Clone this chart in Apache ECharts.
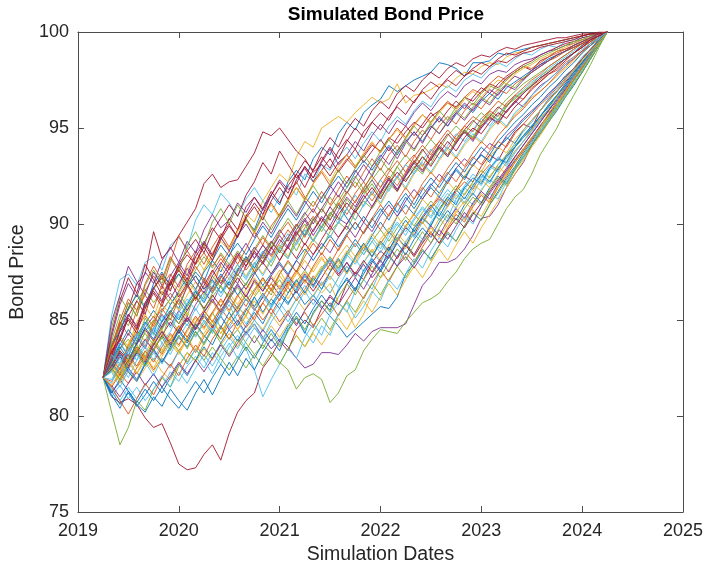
<!DOCTYPE html>
<html><head><meta charset="utf-8">
<script src="https://cdn.jsdelivr.net/npm/echarts@6/dist/echarts.min.js"></script>
<style>html,body{margin:0;padding:0;background:#fff}#c{width:706px;height:570px}</style>
</head><body><div id="c"></div>
<script>
const dates = ['2019-04','2019-05','2019-06','2019-07','2019-08','2019-09','2019-10','2019-11','2019-12',
'2020-01','2020-02','2020-03','2020-04','2020-05','2020-06','2020-07','2020-08','2020-09','2020-10','2020-11','2020-12',
'2021-01','2021-02','2021-03','2021-04','2021-05','2021-06','2021-07','2021-08','2021-09','2021-10','2021-11','2021-12',
'2022-01','2022-02','2022-03','2022-04','2022-05','2022-06','2022-07','2022-08','2022-09','2022-10','2022-11','2022-12',
'2023-01','2023-02','2023-03','2023-04','2023-05','2023-06','2023-07','2023-08','2023-09','2023-10','2023-11','2023-12',
'2024-01','2024-02','2024-03','2024-04'];
const xTickYears = [2019,2020,2021,2022,2023,2024,2025];
const yTickValues = [75,80,85,90,95,100];

const path00 = [82.0,82.9,83.8,83.1,84.2,84.9,84.3,85.5,86.1,85.6, 86.8,87.5,87.0,88.1,88.9,88.3,89.4,90.2,89.7,90.8, 91.5,91.0,92.2,92.8,92.3,93.4,94.0,93.6,94.7,95.3, 94.9,95.8,96.2,96.5,97.2,96.9,97.2,97.5,97.7,97.9, 98.4,98.3,98.1,97.7,98.4,98.4,98.5,98.9,98.8,99.0, 99.1,99.2,99.3,99.4,99.5,99.6,99.7,99.8,99.9,99.9, 100];
const path01 = [82.0,83.1,84.0,83.5,84.6,85.2,84.7,85.9,86.4,85.8, 86.7,87.3,86.6,87.5,88.2,87.6,88.4,87.8,88.6,89.3, 88.7,89.5,90.1,89.4,90.2,90.8,90.1,90.9,91.5,90.8, 91.6,92.2,91.5,92.3,92.9,92.4,93.1,93.6,93.0,93.8, 94.3,93.9,94.6,95.1,94.8,95.5,95.9,95.6,96.3,96.7, 96.5,97.1,97.4,97.8,98.0,98.4,98.7,99.0,99.3,99.6, 100];
const path02 = [82.0,83.0,82.5,83.6,84.4,83.9,85.0,85.8,85.3,86.4, 87.0,86.5,87.6,88.3,89.1,88.6,89.7,90.5,90.1,91.2, 91.9,92.6,92.2,93.5,94.3,94.0,95.0,95.3,95.6,95.3, 95.8,96.2,96.6,96.3,96.5,97.3,96.3,96.7,96.8,97.0, 97.3,97.1,97.6,97.9,97.8,98.2,98.4,98.3,98.7,98.9, 99.0,99.2,99.3,99.4,99.5,99.6,99.7,99.8,99.9,99.9, 100];
const path03 = [82.0,81.2,81.8,82.5,81.9,82.7,83.4,82.8,83.5,84.1, 83.6,84.4,83.8,84.6,85.2,84.5,85.0,84.3,84.8,84.1, 83.5,84.0,83.6,83.0,82.5,82.7,83.3,83.3,83.2,83.7, 84.3,83.9,84.4,84.6,84.6,84.6,84.8,85.8,86.8,87.3, 88.0,88.0,88.2,88.7,89.4,90.3,90.4,91.0,91.9,92.6, 93.2,94.1,94.8,95.4,96.1,96.8,97.5,98.2,98.8,99.4, 100];
const path04 = [82.0,82.6,83.3,82.7,83.8,84.3,83.7,84.6,85.1,84.4, 85.0,84.2,84.8,85.4,84.6,84.0,84.5,83.8,83.2,83.7, 83.3,82.8,82.4,81.4,82.0,82.2,81.9,80.7,81.2,82.1, 82.4,83.4,84.0,84.5,84.4,84.3,84.9,85.4,85.9,86.1, 86.4,87.0,87.5,88.2,88.7,89.0,89.2,90.0,90.8,91.4, 91.8,92.6,93.6,94.3,95.0,95.9,96.7,97.5,98.3,99.2, 100];
const path05 = [82.0,85.2,87.1,87.4,86.8,88.0,88.3,87.6,88.9,89.3, 88.7,90.2,91.0,90.5,91.6,91.1,90.4,91.3,91.9,91.2, 90.6,91.4,92.0,91.5,92.6,92.2,93.1,92.8,93.5,94.0, 93.4,94.2,94.8,94.3,95.1,95.6,95.2,95.9,96.4,96.1, 96.8,97.2,96.9,97.5,97.8,97.6,98.1,98.4,98.2,98.6, 98.9,98.8,99.1,99.3,99.2,99.5,99.6,99.7,99.8,99.9, 100];
const path06 = [82.0,81.0,80.7,80.9,80.6,79.9,79.4,79.6,78.6,77.5, 77.2,77.3,78.0,78.5,77.7,79.1,80.2,80.8,81.2,82.5, 83.1,83.9,83.4,84.5,85.0,84.6,85.6,86.2,85.8,86.9, 87.5,87.1,88.0,88.6,88.2,89.1,89.8,89.4,90.3,90.9, 91.4,91.0,91.8,92.5,92.2,93.0,93.6,93.3,94.1,94.8, 95.2,95.0,95.9,96.5,96.9,97.4,97.9,98.5,98.9,99.5, 100];
const path07 = [82.0,82.5,81.9,82.6,83.3,82.7,83.5,84.2,83.6,84.4, 83.8,84.6,85.3,84.7,85.5,86.2,85.6,86.3,85.7,86.4, 85.8,86.5,85.9,86.5,85.8,86.3,85.7,85.2,84.7,84.1, 84.5,84.9,85.3,85.7,85.6,86.2,87.4,87.9,88.6,88.2, 88.9,89.5,89.1,89.9,90.6,90.2,91.0,91.7,92.4,93.0, 93.7,94.3,95.0,95.6,96.3,96.9,97.5,98.1,98.8,99.4, 100];
const path08 = [82.0,81.5,82.2,81.7,82.5,83.1,82.4,83.0,82.6,83.4, 84.0,83.3,84.1,84.7,84.0,84.8,85.3,84.6,85.2,85.9, 85.3,86.1,86.7,86.0,86.6,87.3,86.8,87.5,88.1,87.4, 88.2,88.8,88.3,89.0,89.6,89.1,89.9,90.5,90.0,90.8, 91.3,90.9,91.7,92.2,91.8,92.6,93.1,92.8,93.6,94.0, 94.5,94.9,95.5,95.9,96.5,97.0,97.6,98.1,98.8,99.4, 100];
const path09 = [82.0,82.7,83.4,82.8,83.6,83.0,83.8,84.5,83.9,84.7, 84.1,84.8,85.5,84.9,85.7,86.4,85.8,86.6,87.2,86.6, 87.3,86.7,87.4,86.8,87.5,86.9,86.4,86.9,85.9,85.5, 84.6,85.3,86.4,87.2,87.6,88.3,88.9,88.4,89.1,89.8, 89.3,90.0,90.7,90.2,91.0,91.6,91.2,92.0,92.6,93.2, 93.8,94.4,95.0,95.6,96.2,96.9,97.5,98.1,98.7,99.4, 100];
const path10 = [82.0,82.8,82.2,83.4,84.1,83.5,84.6,85.3,84.7,85.5, 84.9,85.8,86.5,85.9,86.8,87.4,86.9,87.8,88.5,87.9, 88.7,89.4,88.8,89.7,90.3,89.6,90.4,89.9,90.7,91.4, 90.9,91.7,92.3,91.6,92.4,91.8,92.6,93.3,92.8,93.5, 94.1,93.6,94.3,94.9,94.4,95.1,95.6,95.2,95.9,96.4, 96.1,96.7,97.2,97.5,97.9,98.3,98.6,99.0,99.4,99.7, 100];
const path11 = [82.0,80.2,78.5,79.4,80.8,80.3,81.4,82.0,81.5,82.6, 83.3,82.9,83.8,84.5,84.0,85.1,85.7,85.2,86.2,86.8, 86.3,87.4,88.0,87.5,88.5,89.2,88.7,89.6,90.1,89.7, 90.6,91.2,90.8,91.5,92.1,91.7,92.5,93.0,92.6,93.4, 93.9,93.5,94.3,94.8,94.5,95.2,95.7,95.4,96.1,96.6, 96.9,97.3,97.7,98.0,98.3,98.6,98.9,99.2,99.5,99.7, 100];
const path12 = [82.0,81.4,80.8,81.5,80.9,81.6,82.2,81.5,82.3,81.8, 82.6,83.1,82.5,83.3,82.7,83.6,84.2,83.5,82.4,81.0, 81.9,82.7,83.5,83.0,84.1,84.8,84.2,85.3,85.9,85.4, 86.5,87.1,86.6,87.6,88.3,87.8,88.9,89.5,89.0,90.1, 90.7,90.3,91.3,91.9,91.5,92.4,93.0,92.7,93.6,94.2, 94.8,95.3,95.9,96.5,97.0,97.6,98.1,98.7,99.1,99.6, 100];
const path13 = [82.0,83.5,84.8,85.6,86.9,87.4,89.6,88.2,88.7,89.4, 90.1,90.8,92.1,92.6,91.9,92.2,92.3,93.0,93.7,94.8, 94.6,95.0,94.4,93.8,93.4,92.7,93.1,92.5,93.2,93.6, 93.0,93.5,94.1,93.8,94.5,94.2,94.8,95.3,95.0,95.6, 95.9,96.3,96.1,96.6,96.4,96.9,97.3,97.1,97.6,97.9, 98.2,98.0,98.5,98.7,99.0,99.1,99.3,99.5,99.7,99.8, 100];
const path14 = [82.0,81.3,80.6,81.2,80.5,81.1,81.8,81.2,82.0,82.7, 82.1,82.9,83.6,83.0,83.8,84.5,83.9,84.7,85.4,84.8, 85.7,86.3,85.8,86.6,87.3,86.7,87.6,88.2,87.7,88.5, 89.2,88.6,89.4,90.1,89.5,90.4,91.0,90.5,91.3,91.9, 91.4,92.2,92.8,92.3,93.1,93.6,93.2,94.0,94.5,94.2, 94.9,95.4,95.9,96.4,96.9,97.5,98.0,98.6,99.1,99.6, 100];
const path15 = [82.0,83.6,84.9,84.2,85.5,86.3,85.6,86.8,87.4,86.7, 87.9,88.6,87.9,88.8,89.5,88.8,89.7,90.3,89.6,90.5, 91.1,90.4,91.2,91.9,91.3,92.1,92.7,92.0,92.8,93.4, 92.9,93.6,94.2,93.7,94.4,95.0,94.5,95.2,95.7,95.3, 95.9,96.4,96.0,96.6,97.0,96.8,97.3,97.7,97.5,97.9, 98.2,98.1,98.4,98.7,98.9,99.1,99.3,99.5,99.7,99.9, 100];
const path16 = [82.0,82.4,81.7,82.3,81.8,82.5,83.0,82.3,81.9,82.6, 83.3,82.8,83.5,82.9,83.7,84.3,83.6,84.4,85.0,84.5, 85.3,84.7,85.4,86.1,85.5,86.3,86.9,86.4,87.2,87.8, 87.2,88.0,88.7,88.1,88.9,89.5,89.0,89.8,90.4,89.9, 90.7,91.3,90.8,91.6,92.1,91.7,92.5,93.0,92.6,93.4, 93.9,94.5,95.0,95.6,96.1,96.7,97.3,97.9,98.6,99.3, 100];
const path17 = [82.0,82.6,83.3,82.8,83.5,82.9,83.7,84.4,83.8,84.5, 85.1,84.6,85.4,86.0,85.3,86.1,86.8,86.2,87.0,86.5, 87.3,87.9,87.3,88.1,87.6,88.4,89.0,88.5,89.3,89.9, 89.3,90.1,89.6,90.4,91.0,90.4,91.2,91.8,91.3,92.0, 92.6,92.1,92.9,93.4,93.0,93.7,94.2,93.9,94.6,95.0, 95.5,95.9,96.3,96.8,97.2,97.7,98.1,98.6,99.1,99.5, 100];
const path18 = [82.0,83.9,85.3,84.7,86.0,86.6,85.9,86.5,85.8,86.4, 85.7,86.3,85.6,86.2,86.8,86.1,86.7,86.0,86.6,87.2, 86.5,87.1,86.4,87.0,87.6,87.0,87.7,88.3,87.7,88.4, 89.0,88.4,89.1,89.7,89.1,89.8,90.4,89.9,90.6,91.2, 90.7,91.4,92.0,91.5,92.2,92.8,92.4,93.1,93.6,94.1, 94.6,95.1,95.6,96.1,96.6,97.2,97.7,98.3,98.8,99.4, 100];
const path19 = [82.0,81.0,81.6,80.9,81.5,80.8,81.4,82.1,81.5,82.3, 81.7,82.5,83.2,82.6,83.4,84.1,83.5,84.3,85.0,84.4, 85.2,85.9,85.3,86.1,86.8,86.2,87.0,86.4,87.2,87.8, 87.2,88.0,88.6,88.0,88.8,88.3,89.1,89.7,89.2,90.0, 90.6,90.1,90.9,91.4,91.0,91.8,92.3,92.0,92.8,93.3, 93.9,94.4,95.0,95.5,96.1,96.7,97.3,97.9,98.6,99.3, 100];
const path20 = [82.0,83.2,84.5,85.3,84.7,85.9,86.6,87.4,86.8,87.9, 88.6,89.2,88.5,89.6,90.3,91.0,90.4,91.5,92.2,93.2, 92.6,93.8,93.1,92.4,92.9,92.2,92.8,93.4,92.7,93.3, 93.9,93.2,93.8,94.4,93.8,94.5,95.1,94.6,95.2,95.8, 95.3,95.9,96.4,96.0,96.6,97.1,96.8,97.3,97.7,98.0, 98.3,98.5,98.8,99.0,99.2,99.4,99.5,99.7,99.8,99.9, 100];
const path21 = [82.0,82.9,83.7,84.5,83.9,84.8,85.5,84.9,85.8,86.5, 87.2,86.6,87.5,88.1,87.5,88.4,89.0,88.4,89.2,89.9, 89.3,90.1,90.8,90.2,91.0,91.7,91.1,91.9,92.5,91.9, 92.7,93.3,92.8,93.5,94.1,93.6,94.3,94.8,94.3,95.0, 95.5,95.1,95.7,96.2,95.8,96.4,96.8,96.5,97.1,97.4, 97.7,98.0,98.3,98.6,98.8,99.0,99.2,99.4,99.6,99.8, 100];
const path22 = [82.0,82.7,82.1,82.9,83.6,83.0,83.8,83.2,84.0,84.7, 84.1,84.9,85.5,84.9,85.6,85.0,85.7,86.3,85.6,85.0, 85.6,84.9,85.5,84.8,85.4,84.7,85.3,85.9,85.2,86.0, 86.7,86.1,86.9,87.6,87.0,87.8,88.5,88.0,88.8,89.5, 89.0,89.8,90.5,90.1,90.9,91.5,91.1,91.9,92.5,93.2, 93.8,94.4,95.1,95.7,96.3,96.9,97.5,98.1,98.8,99.4, 100];
const path23 = [82.0,83.2,82.6,83.8,84.5,85.3,84.6,85.4,86.1,85.5, 86.3,87.0,86.3,87.1,87.8,87.1,87.9,87.3,88.0,87.4, 88.2,88.9,88.3,89.1,88.5,89.2,89.9,89.3,90.1,90.8, 90.2,91.0,91.6,91.0,91.8,92.4,91.8,92.6,93.1,92.6, 93.3,93.9,93.4,94.1,94.6,94.2,94.9,95.4,95.0,95.7, 96.1,96.6,96.9,97.3,97.7,98.1,98.5,98.9,99.3,99.7, 100];
const path24 = [82.0,81.6,81.0,81.7,82.3,81.6,82.2,81.5,82.1,82.8, 82.2,82.9,82.3,83.0,83.7,83.1,83.8,84.4,83.8,84.5, 83.9,84.6,85.3,84.7,85.5,86.1,85.6,86.3,85.8,86.5, 87.2,86.6,87.4,88.1,87.5,88.3,89.0,88.4,89.2,89.9, 89.4,90.2,90.8,90.3,91.1,91.7,91.3,92.1,92.7,93.3, 93.9,94.5,95.1,95.7,96.4,97.0,97.6,98.2,98.8,99.4, 100];
const path25 = [82.0,84.6,86.2,85.5,86.4,85.7,86.6,87.3,86.6,87.4, 86.8,87.6,88.3,87.7,88.5,87.9,88.6,88.0,88.7,89.4, 88.8,89.6,90.3,89.7,90.5,91.2,90.6,91.4,90.8,91.6, 92.2,91.6,92.3,92.9,92.3,93.0,93.6,93.1,93.8,94.4, 93.9,94.6,95.1,94.7,95.3,95.8,95.4,96.0,96.5,96.9, 97.3,97.6,97.9,98.2,98.5,98.8,99.1,99.4,99.6,99.8, 100];
const path26 = [82.0,82.3,83.0,82.4,83.2,82.6,83.3,82.7,83.5,84.2, 83.6,84.4,83.8,84.6,85.2,84.6,85.4,84.8,85.5,86.2, 85.6,86.4,87.1,86.5,87.3,86.8,87.6,88.2,87.6,88.4, 87.9,88.6,89.3,88.7,89.5,90.1,89.6,90.3,90.9,90.4, 91.2,91.8,91.3,92.0,92.6,92.2,92.9,93.5,93.1,93.8, 94.3,94.9,95.4,95.9,96.5,97.1,97.7,98.3,98.9,99.4, 100];
const path27 = [82.0,82.5,83.4,82.9,83.8,84.5,83.9,84.7,85.4,84.8, 85.5,86.2,85.6,86.3,85.7,86.5,87.2,86.6,87.4,88.0, 87.4,88.1,88.8,88.2,89.0,88.4,89.2,89.9,89.3,90.0, 90.7,90.1,90.9,91.6,92.3,91.7,92.5,93.2,93.9,93.3, 94.1,94.7,94.2,94.9,95.4,95.0,95.6,96.1,95.8,96.4, 96.8,97.2,97.6,97.9,98.3,98.6,98.9,99.2,99.5,99.8, 100];
const path28 = [82.0,81.2,81.9,81.3,80.7,81.4,80.8,81.5,80.9,80.4, 81.1,81.8,81.2,82.0,82.7,82.1,82.9,83.6,83.0,83.8, 84.5,83.9,84.7,85.4,84.8,85.6,86.3,85.7,86.5,87.2, 86.6,87.4,88.1,87.5,88.3,89.0,88.4,89.2,89.8,89.3, 90.1,90.7,90.2,91.0,91.6,91.1,91.9,92.5,92.1,92.9, 93.5,94.1,94.7,95.3,95.9,96.6,97.2,97.9,98.6,99.3, 100];
const path29 = [82.0,83.4,84.7,85.9,85.2,86.5,87.3,86.6,88.0,89.4, 88.6,87.9,88.5,87.8,88.4,87.7,88.3,87.6,88.2,88.9, 88.3,89.0,89.7,89.1,89.8,90.4,89.8,90.5,91.1,90.5, 91.2,91.8,91.2,91.9,92.5,92.0,92.7,93.3,92.8,93.5, 94.0,93.6,94.3,94.8,94.4,95.1,95.6,95.2,95.9,96.3, 96.8,97.2,97.5,97.9,98.2,98.6,98.9,99.2,99.5,99.8, 100];
const path30 = [82.0,82.9,82.3,83.1,82.5,83.3,84.0,83.4,84.2,83.6, 84.4,85.1,84.5,85.3,86.0,85.4,86.2,86.9,86.3,87.1, 86.5,87.3,86.7,87.4,88.1,87.5,88.2,87.6,88.3,88.9, 88.3,89.0,88.5,89.2,89.8,89.2,89.9,90.5,90.0,90.7, 90.2,90.9,91.5,91.0,91.7,92.3,91.9,92.6,93.2,93.8, 94.3,94.9,95.5,96.0,96.6,97.2,97.8,98.4,99.0,99.5, 100];
const path31 = [82.0,82.6,83.5,84.3,83.7,84.6,85.2,84.6,85.4,86.1, 85.5,86.3,87.0,86.4,87.2,87.9,87.3,88.1,88.8,88.2, 89.0,89.7,89.1,89.9,90.6,90.0,90.8,91.5,92.2,91.6, 92.4,93.1,92.5,93.3,94.0,93.4,94.2,94.8,94.2,95.0, 95.6,95.1,95.8,96.3,95.9,96.5,97.0,96.7,97.3,97.7, 97.5,98.0,98.3,98.5,98.8,99.0,99.2,99.4,99.6,99.8, 100];
const path32 = [82.0,82.8,82.2,83.0,83.7,83.1,83.9,83.3,84.0,83.4, 82.8,83.5,82.9,83.6,83.0,82.4,83.1,82.5,83.2,82.6, 83.3,82.7,83.5,84.2,83.6,84.4,85.1,84.5,85.3,86.0, 85.4,86.2,86.9,86.3,87.1,87.8,87.2,88.0,88.7,88.1, 88.9,89.6,89.1,89.9,90.6,90.2,91.0,91.6,92.3,92.9, 93.6,94.2,94.9,95.5,96.2,96.8,97.5,98.1,98.8,99.4, 100];
const path33 = [82.0,83.0,83.8,83.2,84.1,84.8,84.2,85.0,85.7,85.1, 85.9,86.6,86.0,86.8,86.2,87.0,87.7,87.1,87.9,88.6, 88.0,88.8,89.5,88.9,89.7,89.1,89.9,90.6,90.0,90.8, 91.5,90.9,91.7,92.3,91.7,92.5,93.1,92.6,93.3,93.9, 93.4,94.1,94.7,94.3,94.9,95.5,95.1,95.7,96.2,96.6, 97.0,97.4,97.7,98.1,98.4,98.7,99.0,99.3,99.6,99.8, 100];
const path34 = [82.0,82.4,83.1,82.5,83.3,84.0,83.4,84.2,84.9,84.3, 85.1,84.5,85.2,84.6,85.3,86.0,85.4,86.1,85.5,86.2, 86.9,86.3,87.0,86.4,87.1,86.5,87.2,87.9,87.3,88.0, 87.4,88.1,87.5,88.2,88.8,88.2,88.9,88.3,89.0,89.6, 89.0,89.7,90.3,89.8,90.5,91.1,91.7,92.3,92.9,93.5, 94.1,94.7,95.3,95.9,96.5,97.1,97.7,98.3,98.9,99.5, 100];
const path35 = [82.0,83.7,84.4,85.6,86.3,85.6,86.9,87.5,86.8,87.4, 86.7,87.3,86.6,87.1,86.4,87.0,86.3,86.9,87.5,86.8, 87.4,88.0,87.4,88.1,88.7,88.1,88.8,89.4,88.8,89.5, 90.1,89.5,90.2,90.8,90.2,91.0,91.6,91.0,91.8,92.4, 91.9,92.6,93.2,92.7,93.4,94.0,93.6,94.3,94.8,95.3, 95.7,96.2,96.6,97.1,97.5,98.0,98.4,98.9,99.3,99.7, 100];
const path36 = [82.0,81.8,82.5,83.2,82.6,83.4,82.8,83.6,84.3,83.7, 84.5,85.2,84.6,85.4,86.1,85.5,86.3,85.7,86.5,87.2, 86.6,87.4,88.1,87.5,88.3,89.0,88.4,89.2,88.6,89.4, 90.1,89.5,90.3,91.0,90.4,91.2,91.9,91.3,92.1,92.7, 92.2,92.9,93.5,93.0,93.7,94.3,93.9,94.6,95.1,95.6, 96.0,96.5,96.9,97.3,97.8,98.2,98.6,99.0,99.4,99.7, 100];
const path37 = [82.0,82.6,82.0,82.8,82.2,82.9,82.3,83.1,83.8,83.2, 84.0,84.7,84.1,84.9,84.3,85.1,84.5,85.2,84.6,84.0, 84.7,84.1,84.8,84.2,83.6,84.3,83.7,84.4,85.1,84.5, 85.3,86.0,85.4,86.2,86.9,86.3,87.1,87.8,87.2,88.0, 88.7,88.1,88.9,89.6,89.0,89.8,90.5,91.2,91.9,92.6, 93.3,94.0,94.6,95.3,96.0,96.7,97.3,98.0,98.7,99.3, 100];
const path38 = [82.0,84.1,85.8,86.9,86.2,87.5,86.9,88.1,88.8,88.0, 89.1,88.5,89.7,90.5,89.8,90.2,91.1,90.6,91.4,90.7, 91.5,92.3,91.8,92.1,93.0,92.4,93.2,93.9,93.1,93.6, 94.3,93.8,94.6,95.2,94.7,95.4,95.1,95.8,96.3,95.9, 96.5,96.9,96.6,97.2,97.5,97.3,97.8,98.0,97.9,98.3, 98.5,98.6,98.8,99.0,99.1,99.3,99.4,99.6,99.7,99.9, 100];
const path39 = [82.0,82.9,84.2,83.4,83.9,85.1,84.3,84.0,85.4,86.0, 85.2,86.5,86.1,87.3,86.7,86.2,87.6,88.3,87.5,88.0, 89.1,88.6,88.2,89.4,90.0,89.1,89.8,90.6,90.2,91.3, 90.7,91.5,92.1,91.4,92.0,93.0,92.3,92.8,93.5,93.1, 94.0,93.5,94.4,94.9,94.5,95.3,95.8,95.4,96.2,96.5, 96.9,97.2,97.6,97.9,98.3,98.6,98.9,99.3,99.6,99.8, 100];
const path40 = [82.0,81.7,82.8,83.5,82.9,83.9,84.6,83.8,84.4,85.3, 84.7,85.6,84.9,84.3,85.2,85.8,84.9,84.2,84.8,83.9, 84.5,83.7,84.6,85.2,84.4,83.8,84.7,84.2,85.3,85.9, 85.1,85.7,86.5,86.0,87.1,86.6,87.4,88.2,87.7,88.6, 89.3,88.8,89.7,90.4,90.0,90.9,91.6,91.3,92.2,92.8, 93.5,94.2,94.8,95.4,96.1,96.7,97.4,98.0,98.7,99.3, 100];
const path41 = [82.0,83.3,83.9,85.2,86.0,85.3,86.7,87.2,86.5,87.8, 88.4,87.9,89.0,89.8,89.2,90.3,89.7,90.9,91.4,90.8, 91.7,91.1,92.0,92.6,91.9,92.8,93.5,92.9,93.8,94.4, 93.9,94.8,95.3,94.9,95.6,96.1,95.7,96.4,96.9,96.5, 97.1,97.5,97.2,97.7,98.0,97.8,98.2,98.5,98.4,98.7, 98.9,99.0,99.2,99.3,99.4,99.5,99.6,99.8,99.9,99.9, 100];
const path42 = [82.0,81.1,80.4,81.3,80.6,80.2,81.0,80.5,81.4,80.8, 80.3,81.2,81.9,81.1,82.0,82.8,82.1,83.0,82.4,83.3, 84.0,83.4,84.5,85.1,84.3,85.4,86.0,85.5,86.6,87.1, 86.5,87.6,88.2,87.6,88.7,89.3,88.8,89.8,90.3,89.9, 90.8,91.4,91.0,91.9,92.4,92.1,92.9,93.4,93.2,94.0, 94.5,95.0,95.6,96.1,96.7,97.2,97.8,98.4,98.9,99.5, 100];
const path43 = [82.0,83.0,82.4,83.7,84.3,83.6,84.9,85.6,85.0,86.1, 86.8,86.0,87.2,86.6,87.9,88.6,87.9,88.7,89.6,88.9, 89.9,90.5,91.3,92.2,91.4,90.9,91.7,91.0,91.8,92.5, 91.9,92.7,93.4,92.8,93.6,94.1,93.5,94.3,94.9,94.4, 95.1,95.6,95.2,95.9,96.3,96.0,96.6,97.0,96.8,97.3, 97.6,97.9,98.2,98.5,98.7,99.0,99.2,99.4,99.6,99.8, 100];
const path44 = [82.0,82.5,81.8,82.7,83.5,82.9,83.4,84.3,83.7,84.6, 85.4,84.7,85.1,86.0,85.3,86.2,85.5,86.4,87.0,86.2, 86.9,87.6,86.8,87.5,86.9,87.7,88.3,87.6,88.1,87.4, 88.2,88.9,88.3,89.0,88.5,89.3,88.7,89.6,90.1,89.5, 90.3,89.8,90.6,91.2,90.7,90.4,91.2,91.9,92.7,93.2, 93.9,94.5,95.0,95.8,96.3,96.9,97.6,98.2,98.9,99.4, 100];
const path45 = [82.0,84.9,86.3,87.8,87.0,86.3,87.5,86.8,86.1,86.9, 87.7,87.0,86.4,87.3,88.0,87.4,88.3,89.0,88.2,88.9, 88.4,89.2,88.7,89.5,90.2,89.4,90.1,90.9,90.3,90.0, 90.8,91.5,90.9,91.7,92.4,91.8,92.5,93.2,92.7,93.4, 94.0,93.5,94.2,94.8,94.3,95.0,95.5,95.3,95.9,96.3, 96.8,97.2,97.6,97.9,98.3,98.6,98.9,99.3,99.6,99.8, 100];
const path46 = [82.0,82.7,83.5,84.0,83.3,84.4,85.0,84.5,85.3,84.8, 85.7,86.3,85.5,86.4,87.1,86.6,87.4,86.8,87.7,88.4, 87.8,88.7,89.3,88.6,89.5,90.3,89.6,90.4,91.2,91.9, 92.5,91.8,92.6,93.4,92.8,93.7,94.3,93.8,94.6,95.2, 94.7,95.4,95.9,95.5,96.1,96.6,96.3,96.9,97.3,97.1, 97.6,97.9,98.2,98.5,98.8,99.0,99.3,99.5,99.7,99.9, 100];
const path47 = [82.0,82.3,81.5,82.4,81.9,82.8,82.1,83.0,82.5,83.4, 82.7,83.5,82.9,82.2,83.1,83.8,83.0,83.9,84.6,84.0, 84.9,85.6,84.9,85.7,86.5,85.8,86.6,87.3,86.7,87.5, 88.2,87.5,88.3,89.0,88.4,89.2,89.9,89.3,90.1,90.8, 90.2,91.0,91.6,91.1,91.9,92.5,92.1,92.9,93.4,94.0, 94.5,95.1,95.6,96.2,96.7,97.3,97.9,98.5,99.0,99.5, 100];
const path48 = [82.0,84.3,86.0,87.2,86.4,87.9,87.1,86.3,87.0,86.2, 86.9,86.1,86.8,87.6,86.9,87.7,88.5,87.8,88.6,88.0, 88.8,88.1,88.9,89.6,88.9,89.7,90.3,89.7,90.5,91.1, 90.6,91.3,91.9,91.3,92.1,92.7,92.2,92.9,93.5,93.0, 93.7,94.3,93.8,94.5,95.0,94.7,95.3,95.8,95.5,96.1, 96.5,97.0,97.4,97.8,98.1,98.5,98.9,99.2,99.6,99.8, 100];
const path49 = [82.0,82.8,83.6,82.9,83.8,84.6,84.0,84.9,85.5,85.0, 85.8,86.5,85.9,86.7,87.4,86.8,87.6,88.3,87.7,88.5, 89.1,88.5,89.3,90.0,89.4,90.2,90.8,90.2,91.0,90.3, 89.7,90.4,89.8,90.6,91.2,90.6,91.4,90.8,91.5,92.1, 91.6,92.3,92.9,92.4,93.1,93.6,93.3,94.0,94.4,94.9, 95.4,95.8,96.3,96.7,97.2,97.7,98.1,98.6,99.1,99.5, 100];
const path50 = [82.0,81.5,80.8,80.1,80.9,81.7,81.1,82.0,82.7,82.1, 83.0,83.7,83.1,84.0,84.7,84.0,84.9,85.6,85.0,85.9, 86.6,86.0,86.9,87.6,87.0,87.8,88.5,87.9,88.7,89.4, 88.8,89.6,90.3,89.7,90.5,91.1,90.5,91.3,91.9,91.4, 92.1,92.7,92.2,92.9,93.5,93.1,93.8,94.3,94.0,94.7, 95.2,95.7,96.2,96.6,97.1,97.6,98.1,98.6,99.1,99.5, 100];
const path51 = [82.0,83.5,84.2,83.6,84.9,85.7,85.1,86.4,87.1,86.5, 87.6,88.3,87.6,88.5,89.3,88.7,89.6,90.2,89.5,90.4, 91.0,90.3,91.2,91.9,91.2,92.1,92.8,92.2,93.0,93.6, 93.0,93.7,94.3,93.7,94.4,94.9,94.4,95.1,95.7,95.2, 95.8,96.3,95.9,96.5,96.9,96.6,97.1,97.5,97.3,97.8, 98.1,98.3,98.6,98.8,99.0,99.2,99.4,99.6,99.7,99.9, 100];
const path52 = [82.0,82.6,83.3,82.6,83.4,82.8,83.7,84.4,83.7,84.5, 85.2,84.5,85.4,86.1,85.4,86.2,86.9,86.2,87.1,86.5, 87.2,86.6,87.3,86.7,87.4,86.8,87.5,88.1,87.4,88.0, 87.3,87.9,87.2,87.8,88.4,87.8,88.3,87.7,88.4,89.0, 89.7,89.2,89.9,90.6,90.1,90.9,91.6,92.2,92.8,93.5, 94.1,94.7,95.3,95.9,96.5,97.1,97.7,98.3,98.9,99.5, 100];
const path53 = [82.0,83.8,84.6,85.9,85.2,86.8,87.6,86.9,88.2,87.5, 88.9,89.6,88.8,90.1,90.8,90.0,91.0,90.3,89.6,90.4, 89.7,90.5,91.2,90.5,91.3,92.0,91.3,92.1,92.8,92.1, 92.9,93.6,93.0,93.8,94.4,93.8,94.5,95.1,94.6,95.3, 95.9,95.4,96.1,96.6,96.2,96.8,97.2,97.0,97.5,97.9, 98.2,98.4,98.7,98.9,99.1,99.3,99.5,99.6,99.8,99.9, 100];
const path54 = [82.0,81.9,82.7,82.0,82.9,83.6,82.9,83.8,83.2,84.1, 84.8,84.1,85.0,84.4,85.3,86.0,85.3,86.1,85.5,86.3, 85.7,86.5,87.2,86.5,87.3,86.7,87.5,88.1,87.5,88.3, 89.0,88.4,89.1,88.5,89.3,90.0,89.4,90.2,90.8,90.3, 91.0,91.6,91.1,91.8,92.4,92.0,92.8,93.4,93.0,93.7, 94.3,94.8,95.4,96.0,96.5,97.1,97.7,98.3,98.9,99.5, 100];
const path55 = [82.0,83.1,84.4,85.0,84.3,85.6,86.4,85.7,86.9,87.6, 86.9,88.0,88.8,88.1,89.2,89.9,89.3,90.4,91.1,90.5, 91.5,92.2,91.6,92.6,93.3,92.8,93.8,94.5,94.0,94.9, 95.5,95.1,95.9,96.4,96.0,96.8,97.2,96.9,97.5,97.9, 97.6,98.1,98.4,98.2,98.6,98.8,98.7,99.0,99.2,99.1, 99.3,99.4,99.5,99.6,99.7,99.7,99.8,99.9,99.9,100.0, 100];
const path56 = [82.0,82.4,83.2,82.3,81.8,82.7,83.5,82.8,83.6,84.5, 83.9,84.8,84.2,83.7,84.6,85.4,84.7,85.5,86.2,85.4, 86.1,85.6,86.4,87.1,86.4,87.2,86.6,87.5,88.2,87.5, 88.3,89.0,88.3,89.1,88.6,89.5,90.2,89.6,90.4,91.0, 90.4,91.2,91.8,91.3,92.0,92.6,92.2,92.9,93.5,94.0, 94.6,95.1,95.6,96.2,96.7,97.3,97.9,98.4,99.0,99.5, 100];
const path57 = [82.0,83.6,85.0,86.1,85.5,86.9,87.8,87.1,88.3,87.6, 87.0,87.8,87.1,86.5,87.3,86.6,87.5,88.2,87.5,88.4, 89.1,88.5,89.3,90.0,89.3,90.2,90.8,90.2,91.0,91.7, 91.1,91.9,92.5,91.9,92.7,93.3,92.7,93.5,94.1,93.6, 94.3,94.9,94.4,95.1,95.6,95.3,95.9,96.4,96.1,96.7, 97.1,97.5,97.8,98.2,98.5,98.8,99.1,99.4,99.7,99.9, 100];
const path58 = [82.0,81.6,82.3,83.0,82.2,83.1,82.5,83.3,84.0,83.3, 84.1,83.4,84.3,85.0,84.3,85.1,84.5,85.3,86.0,85.3, 86.1,86.8,86.1,86.9,86.3,87.1,87.8,87.1,87.9,88.6, 88.0,88.8,89.5,88.9,89.7,90.4,89.8,90.6,91.3,90.8, 91.6,92.2,91.7,92.5,93.1,92.7,93.5,94.0,93.7,94.4, 94.9,95.4,95.9,96.4,96.9,97.5,98.0,98.5,99.0,99.5, 100];
const path59 = [82.0,82.9,84.1,85.3,84.6,85.9,86.7,86.0,87.3,88.0, 87.3,88.5,89.1,88.4,89.3,88.6,89.4,90.0,89.3,90.1, 89.5,90.3,91.0,90.4,91.2,90.6,91.4,92.0,91.4,92.2, 92.8,92.2,93.0,93.6,93.1,93.8,94.4,93.9,94.6,95.1, 94.7,95.3,95.8,95.4,96.0,96.5,96.2,96.8,97.2,97.0, 97.5,97.9,98.2,98.5,98.8,99.0,99.3,99.5,99.7,99.9, 100];
const path60 = [82.0,82.5,81.9,82.8,83.4,82.6,83.5,84.1,83.4,84.2, 83.5,84.4,83.7,84.5,83.8,83.2,84.0,83.4,84.2,83.5, 84.3,83.6,84.4,85.2,84.5,85.3,86.0,85.4,86.2,86.9, 86.3,87.1,87.8,87.2,88.0,88.7,88.1,88.9,89.6,89.0, 89.8,90.5,90.0,90.8,91.4,91.0,91.8,92.4,92.0,92.8, 93.4,94.1,94.7,95.3,96.0,96.6,97.3,97.9,98.6,99.3, 100];
const path61 = [82.0,83.2,82.7,83.5,84.3,83.6,84.5,85.2,84.6,85.4, 86.1,85.5,86.3,87.0,86.4,87.2,87.9,87.2,88.0,87.3, 88.1,88.8,88.2,89.0,89.7,89.1,89.9,89.3,90.1,90.8, 90.2,91.0,91.7,91.1,91.9,92.5,91.9,92.7,93.2,92.7, 93.4,94.0,93.5,94.2,94.7,94.3,95.0,95.5,95.1,95.8, 96.2,96.7,97.1,97.5,97.9,98.3,98.7,99.1,99.4,99.7, 100];
const path62 = [82.0,83.4,84.0,85.1,84.5,85.8,86.5,85.9,87.0,87.8, 87.1,88.3,89.0,88.3,89.4,90.0,89.3,90.3,90.9,90.2, 91.2,91.9,91.3,92.3,93.0,92.4,93.3,94.0,93.4,94.3, 95.0,94.5,95.3,95.8,95.4,96.2,96.7,96.3,97.0,97.4, 97.1,97.6,98.0,97.7,98.1,98.4,98.2,98.6,98.9,98.8, 99.0,99.2,99.3,99.4,99.5,99.6,99.7,99.8,99.9,99.9, 100];

const paths = [path00,path01,path02,path03,path04,path05,path06,path07,path08,path09,
  path10,path11,path12,path13,path14,path15,path16,path17,path18,path19,
  path20,path21,path22,path23,path24,path25,path26,path27,path28,path29,
  path30,path31,path32,path33,path34,path35,path36,path37,path38,path39,
  path40,path41,path42,path43,path44,path45,path46,path47,path48,path49,
  path50,path51,path52,path53,path54,path55,path56,path57,path58,path59,
  path60,path61,path62];

const lineColors = ['#0072BD','#D95319','#EDB120','#7E2F8E','#77AC30','#4DBEEE','#A2142F'];

function decimalYear(s) { const p = s.split('-'); return Number(p[0]) + (Number(p[1]) - 1) / 12; }
const xs = dates.map(decimalYear);

const series = paths.map((p, k) => ({
  type: 'line', xAxisIndex: 0, yAxisIndex: 0,
  data: p.map((v, i) => [xs[i], v]),
  showSymbol: false, symbol: 'none', silent: true, animation: false,
  lineStyle: { width: 0.9, color: lineColors[k % 7] },
  itemStyle: { color: lineColors[k % 7] }
}));

const FONT = '"Liberation Sans", Arial, Helvetica, sans-serif';
const axisCol = '#4d4d4d';
const tickCol = '#262626';

const xMin = xTickYears[0], xMax = xTickYears[xTickYears.length - 1];
const yMin = yTickValues[0], yMax = yTickValues[yTickValues.length - 1];

const chart = echarts.init(document.getElementById('c'), null, { renderer: 'canvas' });
chart.setOption({
  animation: false,
  backgroundColor: '#ffffff',
  title: {
    text: 'Simulated Bond Price', left: 381, top: 0, textAlign: 'center',
    textStyle: { fontFamily: FONT, fontWeight: 'bold', fontSize: 19, color: '#000' }
  },
  grid: { left: 74, right: 20, top: 32, bottom: 58, containLabel: false },
  xAxis: [
    { type: 'value', min: xMin, max: xMax, interval: 1, position: 'bottom',
      name: 'Simulation Dates', nameLocation: 'middle', nameGap: 33,
      nameTextStyle: { fontFamily: FONT, fontSize: 19.5, color: tickCol },
      axisLine: { show: true, lineStyle: { color: axisCol, width: 1 } },
      axisTick: { show: true, inside: true, length: 6, lineStyle: { color: axisCol } },
      axisLabel: { show: true, margin: 10, fontFamily: FONT, fontSize: 18, color: tickCol, formatter: v => String(Math.round(v)) },
      splitLine: { show: false } },
    { type: 'value', min: xMin, max: xMax, interval: 1, position: 'top',
      axisLine: { show: true, lineStyle: { color: axisCol, width: 1 } },
      axisTick: { show: true, inside: true, length: 6, lineStyle: { color: axisCol } },
      axisLabel: { show: false }, splitLine: { show: false } }
  ],
  yAxis: [
    { type: 'value', min: yMin, max: yMax, interval: 5, position: 'left',
      name: 'Bond Price', nameLocation: 'middle', nameGap: 46,
      nameTextStyle: { fontFamily: FONT, fontSize: 19.5, color: tickCol },
      axisLine: { show: true, lineStyle: { color: axisCol, width: 1 } },
      axisTick: { show: true, inside: true, length: 6, lineStyle: { color: axisCol } },
      axisLabel: { show: true, margin: 9, fontFamily: FONT, fontSize: 18, color: tickCol },
      splitLine: { show: false } },
    { type: 'value', min: yMin, max: yMax, interval: 5, position: 'right',
      axisLine: { show: true, lineStyle: { color: axisCol, width: 1 } },
      axisTick: { show: true, inside: true, length: 6, lineStyle: { color: axisCol } },
      axisLabel: { show: false }, splitLine: { show: false } }
  ],
  series: series
});
</script>
</body></html>
